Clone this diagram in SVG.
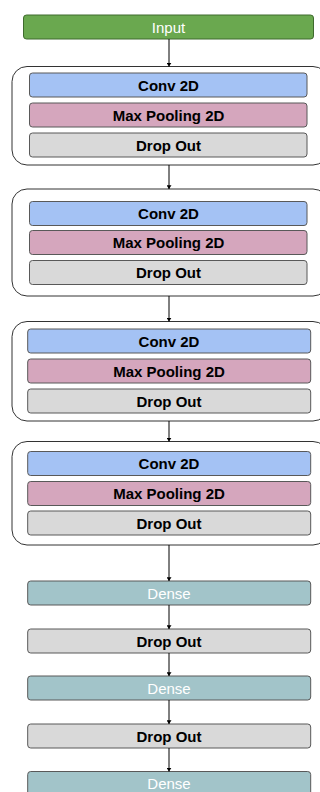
<svg xmlns="http://www.w3.org/2000/svg" width="320" height="792" viewBox="0 0 320 792">
  <defs>
    <style>
      .grp { fill: #ffffff; stroke: #333333; stroke-width: 1; }
      .box { stroke: #595959; stroke-width: 1; }
      .input { fill: #6aa84f; stroke: #3f6b2e; stroke-width: 1; }
      .conv { fill: #a4c2f4; }
      .pool { fill: #d5a6bd; }
      .drop { fill: #d9d9d9; }
      .dense { fill: #a2c4c9; }
      .lb { font-family: "Liberation Sans", Arial, sans-serif; font-size: 15px; font-weight: bold; fill: #000000; text-anchor: middle; }
      .lw { font-family: "Liberation Sans", Arial, sans-serif; font-size: 15px; fill: #ffffff; text-anchor: middle; }
      .conn { stroke: #000000; stroke-width: 1; fill: none; marker-end: url(#ah); }
    </style>
    <marker id="ah" viewBox="0 0 6 8" refX="6" refY="4" markerWidth="4" markerHeight="5" orient="auto" markerUnits="userSpaceOnUse">
      <path d="M0,0 L6,4 L0,8 Z" fill="#000000"/>
    </marker>
  </defs>
  <rect width="320" height="792" fill="#ffffff"/>

  <g id="input">
    <rect class="input" x="23.5" y="15" width="290" height="24" rx="3"/>
    <text class="lw" x="168.5" y="32.5">Input</text>
  </g>

  <g id="block1">
    <rect class="grp" x="12" y="66.5" width="316" height="98.5" rx="15"/>
    <g id="conv1"><rect class="box conv" x="29.5" y="73" width="277.5" height="24" rx="3"/><text class="lb" x="168.5" y="90.5">Conv 2D</text></g>
    <g id="pool1"><rect class="box pool" x="29.5" y="103" width="277.5" height="24" rx="3"/><text class="lb" x="168.5" y="120.5">Max Pooling 2D</text></g>
    <g id="drop1"><rect class="box drop" x="29.5" y="133" width="277.5" height="24" rx="3"/><text class="lb" x="168.5" y="150.5">Drop Out</text></g>
  </g>

  <g id="block2">
    <rect class="grp" x="12" y="189" width="316" height="107" rx="15"/>
    <g id="conv2"><rect class="box conv" x="29.5" y="201.5" width="277.5" height="24" rx="3"/><text class="lb" x="168.5" y="219">Conv 2D</text></g>
    <g id="pool2"><rect class="box pool" x="29.5" y="230.5" width="277.5" height="24" rx="3"/><text class="lb" x="168.5" y="248">Max Pooling 2D</text></g>
    <g id="drop2"><rect class="box drop" x="29.5" y="260.5" width="277.5" height="24" rx="3"/><text class="lb" x="168.5" y="278">Drop Out</text></g>
  </g>

  <g id="block3">
    <rect class="grp" x="12" y="321.5" width="316" height="99.5" rx="15"/>
    <g id="conv3"><rect class="box conv" x="27.7" y="329" width="283" height="24" rx="3"/><text class="lb" x="169" y="346.5">Conv 2D</text></g>
    <g id="pool3"><rect class="box pool" x="27.7" y="359" width="283" height="24" rx="3"/><text class="lb" x="169" y="376.5">Max Pooling 2D</text></g>
    <g id="drop3"><rect class="box drop" x="27.7" y="389" width="283" height="24" rx="3"/><text class="lb" x="169" y="406.5">Drop Out</text></g>
  </g>

  <g id="block4">
    <rect class="grp" x="12" y="441.5" width="316" height="103.5" rx="15"/>
    <g id="conv4"><rect class="box conv" x="27.7" y="451.5" width="283" height="24" rx="3"/><text class="lb" x="169" y="469">Conv 2D</text></g>
    <g id="pool4"><rect class="box pool" x="27.7" y="481.5" width="283" height="24" rx="3"/><text class="lb" x="169" y="499">Max Pooling 2D</text></g>
    <g id="drop4"><rect class="box drop" x="27.7" y="511" width="283" height="24" rx="3"/><text class="lb" x="169" y="528.5">Drop Out</text></g>
  </g>

  <g id="dense1"><rect class="box dense" x="27.7" y="581" width="283" height="24" rx="3"/><text class="lw" x="169" y="598.5">Dense</text></g>
  <g id="drop5"><rect class="box drop" x="27.7" y="629" width="283" height="24" rx="3"/><text class="lb" x="169" y="646.5">Drop Out</text></g>
  <g id="dense2"><rect class="box dense" x="27.7" y="676" width="283" height="24" rx="3"/><text class="lw" x="169" y="693.5">Dense</text></g>
  <g id="drop6"><rect class="box drop" x="27.7" y="724" width="283" height="24" rx="3"/><text class="lb" x="169" y="741.5">Drop Out</text></g>
  <g id="dense3"><rect class="box dense" x="27.7" y="771.5" width="283" height="24" rx="3"/><text class="lw" x="169" y="789">Dense</text></g>

  <g id="connectors">
    <line class="conn" x1="169" y1="39" x2="169" y2="66.5"/>
    <line class="conn" x1="169" y1="165" x2="169" y2="189"/>
    <line class="conn" x1="169" y1="296" x2="169" y2="321.5"/>
    <line class="conn" x1="169" y1="421" x2="169" y2="441.5"/>
    <line class="conn" x1="169" y1="545" x2="169" y2="581"/>
    <line class="conn" x1="169" y1="605" x2="169" y2="629"/>
    <line class="conn" x1="169" y1="653" x2="169" y2="676"/>
    <line class="conn" x1="169" y1="700" x2="169" y2="724"/>
    <line class="conn" x1="169" y1="748" x2="169" y2="771.5"/>
  </g>
</svg>
